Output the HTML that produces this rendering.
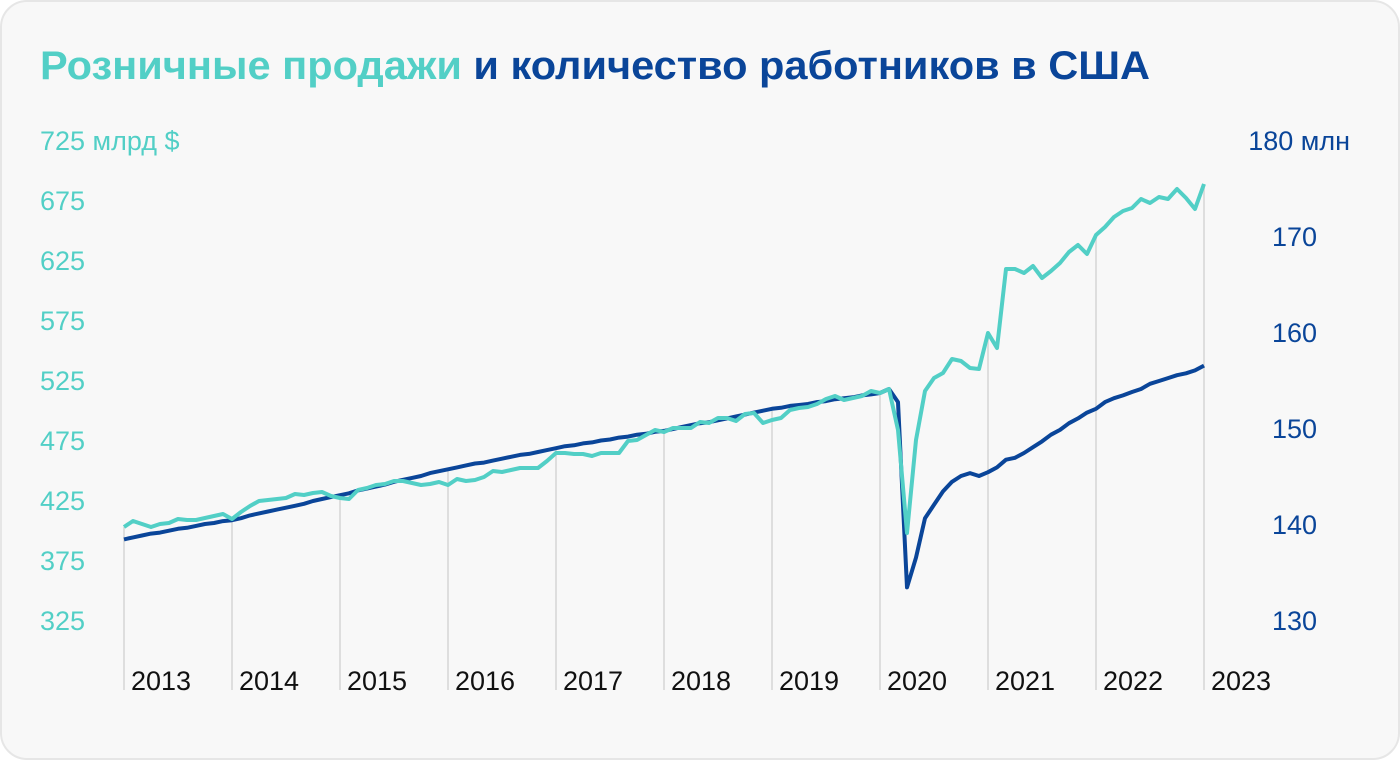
<!DOCTYPE html>
<html><head><meta charset="utf-8"><style>
html,body{margin:0;padding:0;background:#fff;}
svg{display:block;font-family:"Liberation Sans",sans-serif;}
</style></head><body>
<svg width="1400" height="760" viewBox="0 0 1400 760">
<rect x="1" y="1" width="1398" height="758" rx="26" fill="#f8f8f8" stroke="#e6e6e6" stroke-width="2"/>
<text x="40" y="79" font-size="40" font-weight="bold" textLength="1110" lengthAdjust="spacingAndGlyphs"><tspan fill="#52cfc6">Розничные продажи</tspan><tspan fill="#0a4599"> и количество работников в США</tspan></text>
<g id="grid"></g>
<g id="lefttk"></g>
<g id="righttk"></g>
<g id="years"></g>
<g id="lines"></g>
</svg>
<script>
const years = ["2013","2014","2015","2016","2017","2018","2019","2020","2021","2022","2023"];
const leftTicks = [725,675,625,575,525,475,425,375,325];
const rightTicks = [180,170,160,150,140,130];
const retailSales = [
402.5,407.5,405,402.5,405,405.8,409.2,408.3,408.3,410,411.7,413.3,
409.2,415,420,424.2,425,425.8,426.7,430,429.2,430.8,431.7,428.3,
426.7,425.8,433.3,435,437.5,438.3,440.8,440.8,439.2,437.5,438.3,440,
437.5,442.5,440.8,441.7,444.2,449.2,448.3,450,451.7,451.7,451.7,457.5,
464.2,464.2,463.3,463.3,461.7,464.2,464.2,464.2,474.2,475,479.2,483.3,
481.7,485,485,485,490,489.2,493.3,493.3,490.8,496.7,497.5,489.2,
491.7,493.3,500,501.7,502.5,505,509.2,511.7,508.3,510,511.7,515.8,
514.2,517.5,483.3,397.5,475,515.8,526.7,530.8,542.5,540.8,535,534.2,
564.2,551.7,617.5,617.5,614.2,620,610,615.8,622.5,631.7,637.5,630,
645.8,652.5,660.8,665.8,668.3,675.8,672.5,677.5,675.8,684.2,676.7,667.5,
688.3];
const employment = [
138.4,138.6,138.8,139.0,139.1,139.3,139.5,139.6,139.8,140.0,140.1,140.3,
140.4,140.6,140.9,141.1,141.3,141.5,141.7,141.9,142.1,142.4,142.6,142.8,
143.0,143.2,143.5,143.7,143.9,144.1,144.4,144.6,144.8,145.0,145.3,145.5,
145.7,145.9,146.1,146.3,146.4,146.6,146.8,147.0,147.2,147.3,147.5,147.7,
147.9,148.1,148.2,148.4,148.5,148.7,148.8,149.0,149.1,149.3,149.4,149.6,
149.7,149.9,150.1,150.3,150.5,150.6,150.8,151.0,151.2,151.4,151.6,151.8,
152.0,152.1,152.3,152.4,152.5,152.7,152.8,153.0,153.1,153.2,153.4,153.5,
153.65,154.06,152.7,133.4,136.5,140.6,142.0,143.4,144.4,145.0,145.3,145.0,
145.4,145.9,146.7,146.9,147.4,148.0,148.6,149.3,149.8,150.5,151.0,151.6,
152.0,152.7,153.1,153.4,153.75,154.06,154.6,154.9,155.2,155.5,155.7,156.0,
156.5];
const NS='http://www.w3.org/2000/svg';
const xM = i => 124 + i*9;
const yL = v => 140 + (725 - v)*1.2;
const yR = v => 140 + (180 - v)*9.6;
function mk(tag, attrs, parent){const e=document.createElementNS(NS,tag);for(const k in attrs)e.setAttribute(k,attrs[k]);parent.appendChild(e);return e;}
const grid=document.getElementById('grid');
years.forEach((y,k)=>{
  const i=k*12;
  const top=Math.min(yL(retailSales[Math.min(i,retailSales.length-1)]), yR(employment[Math.min(i,employment.length-1)]));
  const l=mk('line',{x1:xM(i),x2:xM(i),y1:top,y2:690,stroke:'#dedede','stroke-width':2},grid);
  
  
  const t=mk('text',{x:xM(i)+7,y:690,'font-size':27,fill:'#111'},document.getElementById('years'));
  t.textContent=y;
  
  
});
leftTicks.forEach((v,k)=>{
  const t=mk('text',{x:40,y:yL(v)+10,'font-size':27,fill:'#52cfc6'},document.getElementById('lefttk'));
  t.textContent = k===0 ? v+' млрд $' : String(v);
  
  
});
rightTicks.forEach((v,k)=>{
  const t=mk('text',{x:k===0?1350:1317,y:yR(v)+10,'font-size':27,fill:'#0a4599','text-anchor':'end'},document.getElementById('righttk'));
  t.textContent = k===0 ? v+' млн' : String(v);
  
  
});
const lines=document.getElementById('lines');
const pE=mk('polyline',{points:employment.map((v,i)=>xM(i)+','+yR(v).toFixed(1)).join(' '),fill:'none',stroke:'#0a4599','stroke-width':4,'stroke-linejoin':'round'},lines);


const pR=mk('polyline',{points:retailSales.map((v,i)=>xM(i)+','+yL(v).toFixed(1)).join(' '),fill:'none',stroke:'#52cfc6','stroke-width':4,'stroke-linejoin':'round'},lines);


</script>
</body></html>
